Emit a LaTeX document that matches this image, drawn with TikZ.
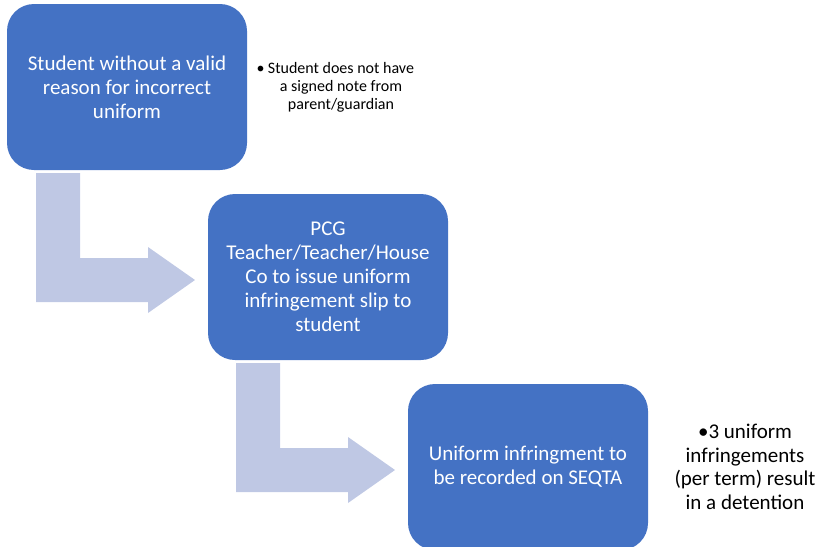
\documentclass[tikz,border=0pt]{standalone}
\usepackage{fontspec}
\setmainfont{Carlito}
\definecolor{boxblue}{RGB}{68,114,196}
\definecolor{arrowblue}{RGB}{191,200,228}
\tikzset{
  stepbox/.style={fill=boxblue, draw=none, rounded corners=27pt, minimum width=240pt, minimum height=166pt, inner sep=0pt, align=center, text=white, font=\fontsize{21}{24}\selectfont},
  notetext/.style={align=center, text=black, inner sep=0pt},
  bentarrow/.style={fill=arrowblue, draw=none}
}
\begin{document}
\begin{tikzpicture}[x=1pt,y=-1pt]
\useasboundingbox (0,0) rectangle (816,546);
% block arrows
\fill[bentarrow] (36,173) -- (80,173) -- (80,258) -- (148,258) -- (148,247) -- (195,280) -- (148,313) -- (148,302) -- (36,302) -- cycle;
\fill[bentarrow] (236,363) -- (280,363) -- (280,448) -- (348,448) -- (348,437) -- (395,470) -- (348,503) -- (348,492) -- (236,492) -- cycle;
% boxes
\node[stepbox] (b1) at (127,87) {Student without a valid\\reason for incorrect\\uniform};
\node[stepbox] (b2) at (328,277) {PCG\\Teacher/Teacher/House\\Co to issue uniform\\infringement slip to\\student};
\node[stepbox] (b3) at (528,467) {Uniform infringment to\\be recorded on SEQTA};
% notes
\node[notetext, font=\fontsize{16}{18}\selectfont] (n1) at (341,87) {Student does not have\\a signed note from\\parent/guardian};
\node[notetext, font=\fontsize{16}{18}\selectfont, anchor=east] (n1b) at ([xshift=-3pt]n1.north west |- 0,70) {\textbullet};
\node[notetext, font=\fontsize{21}{23.5}\selectfont] (n2) at (745,467) {\textbullet3 uniform\\infringements\\(per term) result\\in a detention};
\end{tikzpicture}
\end{document}
